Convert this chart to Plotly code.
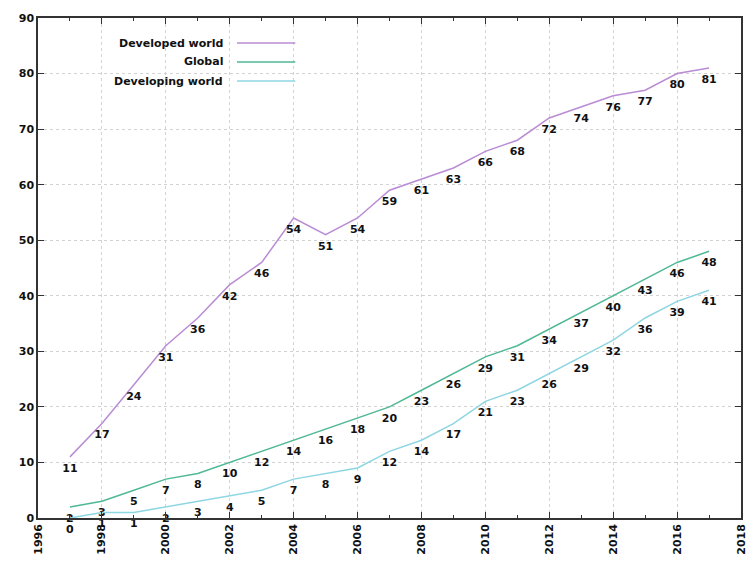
import plotly.graph_objects as go

years = list(range(1997, 2018))
developed = [11, 17, 24, 31, 36, 42, 46, 54, 51, 54, 59, 61, 63, 66, 68, 72, 74, 76, 77, 80, 81]
global_ = [2, 3, 5, 7, 8, 10, 12, 14, 16, 18, 20, 23, 26, 29, 31, 34, 37, 40, 43, 46, 48]
developing = [0, 1, 1, 2, 3, 4, 5, 7, 8, 9, 12, 14, 17, 21, 23, 26, 29, 32, 36, 39, 41]

series = [
    ("Developed world", developed, "#b98cd4"),
    ("Global", global_, "#4fb895"),
    ("Developing world", developing, "#8dd6e2"),
]

FONT = "DejaVu Sans"
TF = dict(family=FONT, size=11, color="#111", weight="bold")
fig = go.Figure()
for name, vals, col in series:
    fig.add_trace(go.Scatter(
        x=years, y=vals, name=name, mode="lines+markers+text",
        line=dict(color=col, width=1.5),
        marker=dict(size=9, color="rgba(0,0,0,0)"),
        text=[str(v) for v in vals], textposition="bottom center",
        textfont=TF, showlegend=False, cliponaxis=False,
    ))

# manual gnuplot-style legend (text right, sample to the right)
ys = [0.95, 0.912, 0.874]
for (name, vals, col), yy in zip(series, ys):
    fig.add_annotation(x=0.266, y=yy, xref="paper", yref="paper", text=name,
                       showarrow=False, xanchor="right", yanchor="middle", font=TF)
    fig.add_shape(type="line", xref="paper", yref="paper", x0=0.283, x1=0.366,
                  y0=yy, y1=yy, line=dict(color=col, width=1.5))

axis_common = dict(
    showline=True, linecolor="#333", linewidth=1.5, mirror="ticks",
    ticks="inside", ticklen=6, tickcolor="#333",
    showgrid=True, gridcolor="#d2d2d2", griddash="dot", gridwidth=1,
    zeroline=False, tickfont=TF, automargin=False,
)
fig.update_xaxes(range=[1996, 2018], dtick=2, tick0=1996, tickangle=-90,
                 minor=dict(ticks="inside", ticklen=3, dtick=1, tickcolor="#333", showgrid=False),
                 **axis_common)
fig.update_yaxes(range=[0, 90], dtick=10, **axis_common)

# page body has an 8px margin; compensate so the plot area lands at 38..741 x 18..518
fig.update_layout(
    width=746, height=556,
    margin=dict(l=30, r=13, t=10, b=46),
    plot_bgcolor="white", paper_bgcolor="white",
    font=TF,
)
fig.write_html("out.html")
